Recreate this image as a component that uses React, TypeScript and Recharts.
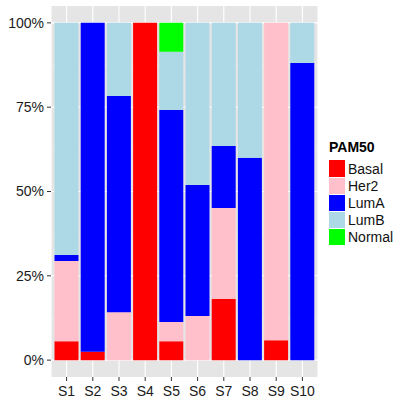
import React from 'react';
import { BarChart, Bar, XAxis, YAxis, CartesianGrid } from 'recharts';

const categories = ['S1', 'S2', 'S3', 'S4', 'S5', 'S6', 'S7', 'S8', 'S9', 'S10'];
const basal = [5.6, 2.5, 0, 100, 5.6, 0, 18.1, 0, 5.9, 0];
const her2 = [23.8, 0, 14.2, 0, 5.7, 13.1, 27.0, 0, 94.1, 0];
const lumA = [1.8, 97.5, 64.1, 0, 62.9, 38.8, 18.4, 60.0, 0, 88.1];
const lumB = [68.8, 0, 21.7, 0, 17.2, 48.1, 36.5, 40.0, 0, 11.9];
const normal = [0, 0, 0, 0, 8.6, 0, 0, 0, 0, 0];

const yTicks = [0, 25, 50, 75, 100];
const yMinor = [12.5, 37.5, 62.5, 87.5];

const seriesKeys = ['Basal', 'Her2', 'LumA', 'LumB', 'Normal'];
const seriesColors = ['#FF0000', '#FFC0CB', '#0000FF', '#ADD8E6', '#00FF00'];

const data = categories.map((c, i) => ({
  name: c,
  Basal: basal[i],
  Her2: her2[i],
  LumA: lumA[i],
  LumB: lumB[i],
  Normal: normal[i],
}));

const font = '"Liberation Sans", Arial, sans-serif';

export default function App() {
  return (
    <div style={{ position: 'absolute', left: 0, top: 0, width: 401, height: 402, background: '#fff', fontFamily: font }}>
      <BarChart
        width={401}
        height={402}
        data={data}
        margin={{ top: 6, right: 83, bottom: 0, left: 0 }}
        barCategoryGap={0}
        barGap={0}
        style={{ fontFamily: font }}
      >
        <CartesianGrid fill="#E5E5E5" stroke="#FFFFFF" strokeWidth={1.1} horizontalValues={yTicks} />
        <CartesianGrid fill="none" stroke="#F2F2F2" strokeWidth={0.6} horizontalValues={yMinor} vertical={false} />
        <XAxis
          dataKey="name"
          type="category"
          padding={{ left: 2.5, right: 2.5 }}
          height={25}
          axisLine={false}
          tickSize={4}
          tickMargin={5}
          tickLine={{ stroke: '#333333' }}
          tick={{ fill: '#1A1A1A', fontSize: 14, fontFamily: font }}
          interval={0}
        />
        <YAxis
          type="number"
          domain={[-5, 105]}
          ticks={yTicks}
          allowDataOverflow
          width={51}
          axisLine={false}
          tickSize={4}
          tickMargin={3}
          tickLine={{ stroke: '#333333' }}
          tick={{ fill: '#1A1A1A', fontSize: 14, fontFamily: font }}
          tickFormatter={(v: number) => `${v}%`}
        />
        {seriesKeys.map((k, i) => (
          <Bar key={k} dataKey={k} stackId="a" fill={seriesColors[i]} barSize={24} isAnimationActive={false} />
        ))}
      </BarChart>
      <div style={{ position: 'absolute', left: 329, top: 140, fontFamily: font }}>
        <div style={{ fontWeight: 'bold', fontSize: 14, color: '#000', height: 20, lineHeight: '15px' }}>PAM50</div>
        {seriesKeys.map((k, i) => (
          <div key={k} style={{ display: 'flex', alignItems: 'center', height: 17 }}>
            <div style={{ width: 16, height: 17, boxSizing: 'border-box', background: seriesColors[i], borderTop: i === 0 ? 'none' : '0.5px solid #fff' }} />
            <span style={{ marginLeft: 3, fontSize: 14, color: '#111' }}>{k}</span>
          </div>
        ))}
      </div>
    </div>
  );
}
